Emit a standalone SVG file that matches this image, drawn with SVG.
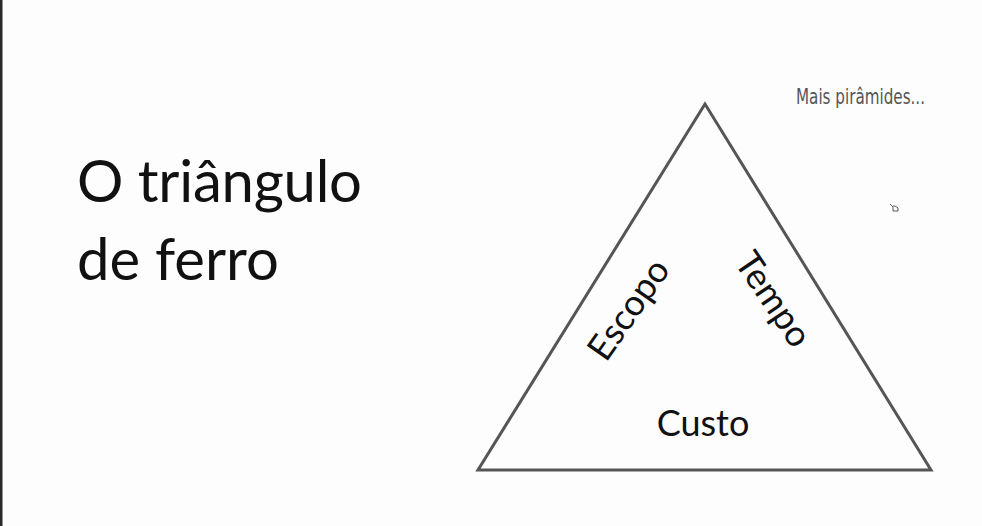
<svg xmlns="http://www.w3.org/2000/svg" width="982" height="526" viewBox="0 0 982 526">
  <style>
    .title { font-family: Lato, "Open Sans", sans-serif; font-size: 58px; fill: #111; }
    .label { font-family: Lato, "Open Sans", sans-serif; font-size: 36px; fill: #111; text-anchor: middle; }
    .note { font-family: "DejaVu Sans Condensed", "DejaVu Sans", sans-serif; font-size: 21px; fill: #555; font-weight: 300; }
    .edge { fill: none; stroke: #555; stroke-width: 3; stroke-linejoin: miter; }
  </style>
  <rect x="0" y="0" width="982" height="526" fill="#fdfdfd"/>
  <rect x="0" y="0" width="2.5" height="526" fill="#2a2a2a"/>
  <g id="title">
    <text class="title" x="77" y="202" textLength="285" lengthAdjust="spacing">O triângulo</text>
    <text class="title" x="77" y="280">de ferro</text>
  </g>
  <g id="note">
    <text class="note" x="796" y="104" textLength="129" lengthAdjust="spacingAndGlyphs">Mais pirâmides...</text>
  </g>
  <g id="connectors">
    <polygon class="edge" points="705,104 478,470 931,470"/>
  </g>
  <g id="escopo">
    <text class="label" transform="translate(628,309) rotate(-55)" y="13">Escopo</text>
  </g>
  <g id="tempo">
    <text class="label" transform="translate(774,299) rotate(56)" y="13">Tempo</text>
  </g>
  <g id="custo">
    <text class="label" x="703" y="436">Custo</text>
  </g>
  <g id="cursor" fill="none" stroke="#333" stroke-width="0.8">
    <path d="M890,204 l3,3 l0,4 l5,0 l0,-3 l-3,-2 l-2,0"/>
  </g>
</svg>
